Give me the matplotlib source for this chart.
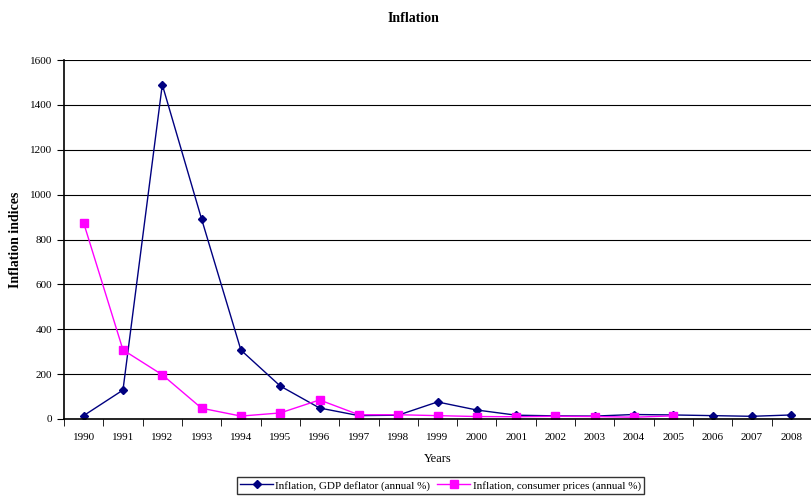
import matplotlib
matplotlib.use("Agg")
import matplotlib.pyplot as plt
import numpy as np

plt.rcParams['font.family'] = ['Liberation Serif', 'DejaVu Serif']

years = [str(y) for y in range(1990, 2009)]
gdp_deflator = [15, 129, 1490, 891, 307, 147, 49, 15, 17, 76, 40, 17, 14, 13, 20, 18, 15, 12, 18]
consumer_prices = [874, 308, 197, 48, 13, 27, 85, 19, 19, 15, 11, 10, 12, 11, 8, 14]

fig = plt.figure(figsize=(8.11, 4.97), dpi=100)
ax = fig.add_axes([64 / 811, 78 / 497, 1 - 64 / 811, 359 / 497])

x = np.arange(len(years))
ax.plot(x, gdp_deflator, color="#000080", marker="D", markersize=4, linewidth=1,
        label="Inflation, GDP deflator (annual %)")
ax.plot(x[:len(consumer_prices)], consumer_prices, color="#FF00FF", marker="s", markersize=6,
        linewidth=1, label="Inflation, consumer prices (annual %)")

ax.set_ylim(0, 1600)
ax.set_yticks(range(0, 1601, 200))
# category axis runs past the right edge of the image, as in the original
ax.set_xlim(-0.5, 18.28)
ax.set_xticks(x)
ax.set_xticklabels(years)
ax.set_xticks(np.arange(-0.5, 19, 1), minor=True)
ax.tick_params(axis="x", which="major", length=0, labelsize=8, pad=10)
ax.tick_params(axis="x", which="minor", length=5, direction="out", color="black")
ax.tick_params(axis="y", length=5, direction="out", labelsize=8)

ax.grid(axis="y", color="black", linewidth=0.8)
ax.set_axisbelow(True)
for s in ["top", "right"]:
    ax.spines[s].set_visible(False)
ax.spines["left"].set_linewidth(1.2)
ax.spines["bottom"].set_linewidth(1.2)

ax.set_xlabel("Years", fontsize=9, labelpad=8)
ax.set_ylabel("Inflation indices", fontsize=10, fontweight="bold", labelpad=6)
fig.suptitle("Inflation", fontsize=10, fontweight="bold", y=0.975, x=0.51)

fig.legend(loc="lower center", bbox_to_anchor=(0.543, -0.005), ncol=2, fontsize=8,
           frameon=True, fancybox=False, edgecolor="black", handlelength=3,
           borderpad=0.3, columnspacing=0.6, handletextpad=0.2)

fig.savefig("out.png", dpi=100)
